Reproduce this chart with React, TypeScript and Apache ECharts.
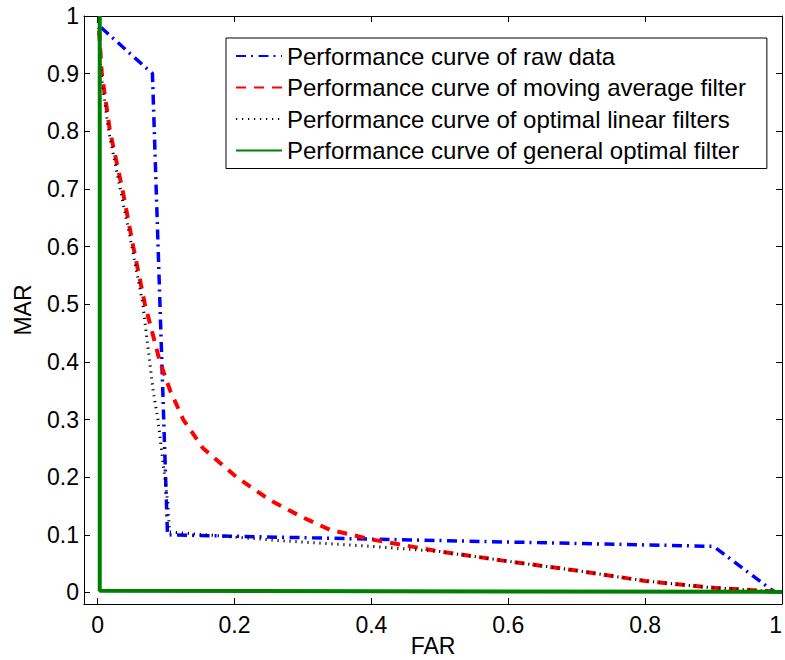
import React, { useEffect, useRef } from "react";
import * as echarts from "echarts";

const seriesNames = [
  "Performance curve of raw data",
  "Performance curve of moving average filter",
  "Performance curve of optimal linear filters",
  "Performance curve of general optimal filter",
];

const farRaw = [0.005, 0.08, 0.102, 0.9, 0.99];
const marRaw = [0.98, 0.9, 0.1, 0.08, 0.0];

const farMovingAvg = [0.002, 0.006, 0.018, 0.036, 0.052, 0.069, 0.08, 0.091, 0.106, 0.125, 0.154, 0.203, 0.252, 0.3, 0.339, 0.4, 0.5, 0.6, 0.7, 0.8, 0.9, 1.0];
const marMovingAvg = [0.975, 0.9, 0.8, 0.7, 0.6, 0.5, 0.45, 0.4, 0.35, 0.3, 0.25, 0.2, 0.16, 0.13, 0.109, 0.092, 0.071, 0.054, 0.038, 0.02, 0.008, 0.001];

const farOptLinear = [0.001, 0.005, 0.016, 0.033, 0.05, 0.066, 0.076, 0.081, 0.088, 0.093, 0.098, 0.103, 0.105, 0.266, 0.4, 0.5, 0.6, 0.7, 0.8, 0.9, 1.0];
const marOptLinear = [0.99, 0.9, 0.8, 0.7, 0.6, 0.5, 0.4, 0.35, 0.3, 0.25, 0.2, 0.15, 0.105, 0.09, 0.08, 0.071, 0.054, 0.038, 0.02, 0.008, 0.001];

const farGeneral = [0.003, 0.003, 1.0];
const marGeneral = [1.0, 0.003, 0.001];

const xTicks = [0, 0.2, 0.4, 0.6, 0.8, 1];
const yTicks = [0, 0.1, 0.2, 0.3, 0.4, 0.5, 0.6, 0.7, 0.8, 0.9, 1];

const FONT = "'Liberation Sans', Arial, Helvetica, sans-serif";

function zip(xs: number[], ys: number[]) {
  return xs.map((x, i) => [x, ys[i]]);
}

export default function App() {
  const ref = useRef<HTMLDivElement>(null);
  useEffect(() => {
    if (!ref.current) return;
    const chart = echarts.init(ref.current, undefined, { renderer: "svg" });
    const axisCommon = {
      type: "value" as const,
      min: -0.02,
      max: 1,
      splitLine: { show: false },
      axisLine: { show: true, onZero: false, lineStyle: { color: "#000", width: 1 } },
    };
    const tickStyle = { show: true, inside: true, length: 6, lineStyle: { color: "#000", width: 1 } };
    chart.setOption({
      animation: false,
      backgroundColor: "#fff",
      textStyle: { fontFamily: FONT },
      grid: { left: 84, right: 3, top: 16, bottom: 56, containLabel: false, outerBoundsMode: "none" },
      xAxis: [
        {
          ...axisCommon,
          position: "bottom",
          name: "FAR",
          nameLocation: "middle",
          nameGap: 30,
          nameMoveOverlap: false,
          nameTextStyle: { fontSize: 23, lineHeight: 23, color: "#000", fontFamily: FONT },
          axisTick: { ...tickStyle, customValues: xTicks },
          axisLabel: {
            customValues: xTicks,
            margin: 9,
            fontSize: 23,
            color: "#000",
            fontFamily: FONT,
            alignMaxLabel: "right",
            formatter: (v: number) => String(v),
          },
        },
        {
          ...axisCommon,
          position: "top",
          axisTick: { ...tickStyle, customValues: xTicks },
          axisLabel: { show: false },
        },
      ],
      yAxis: [
        {
          ...axisCommon,
          position: "left",
          name: "MAR",
          nameLocation: "middle",
          nameGap: 50,
          nameTextStyle: { fontSize: 23, color: "#000", fontFamily: FONT },
          axisTick: { ...tickStyle, customValues: yTicks },
          axisLabel: {
            customValues: yTicks,
            margin: 5,
            fontSize: 23,
            color: "#000",
            fontFamily: FONT,
            formatter: (v: number) => String(v),
          },
        },
        {
          ...axisCommon,
          position: "right",
          axisTick: { ...tickStyle, customValues: yTicks },
          axisLabel: { show: false },
        },
      ],
      legend: {
        orient: "vertical",
        left: 226,
        top: 38,
        padding: [6, 21, 6, 9],
        itemWidth: 46,
        itemHeight: 14,
        itemGap: 7.5,
        backgroundColor: "#fff",
        borderColor: "#000",
        borderWidth: 1,
        borderRadius: 0,
        itemStyle: { opacity: 0 },
        textStyle: { fontSize: 24, color: "#000", fontFamily: FONT, lineHeight: 24 },
        data: seriesNames,
      },
      series: [
        {
          name: seriesNames[0],
          type: "line",
          symbol: "none",
          data: zip(farRaw, marRaw),
          lineStyle: { color: "#0000ff", width: 3.5, type: [10, 5, 2, 5.5] },
          itemStyle: { color: "#0000ff" },
          z: 2,
        },
        {
          name: seriesNames[1],
          type: "line",
          symbol: "none",
          data: zip(farMovingAvg, marMovingAvg),
          lineStyle: { color: "#ff0000", width: 4, type: [10, 8] },
          itemStyle: { color: "#ff0000" },
          z: 3,
        },
        {
          name: seriesNames[2],
          type: "line",
          symbol: "none",
          data: zip(farOptLinear, marOptLinear),
          lineStyle: { color: "#000000", width: 3, type: [1.2, 4.8] },
          itemStyle: { color: "#000000" },
          z: 4,
        },
        {
          name: seriesNames[3],
          type: "line",
          symbol: "none",
          data: zip(farGeneral, marGeneral),
          lineStyle: { color: "#008000", width: 4, type: "solid" },
          itemStyle: { color: "#008000" },
          z: 5,
        },
      ],
    });
    return () => chart.dispose();
  }, []);
  return (
    <div
      ref={ref}
      style={{ position: "fixed", left: 0, top: 0, width: 785, height: 660, background: "#fff" }}
    />
  );
}
